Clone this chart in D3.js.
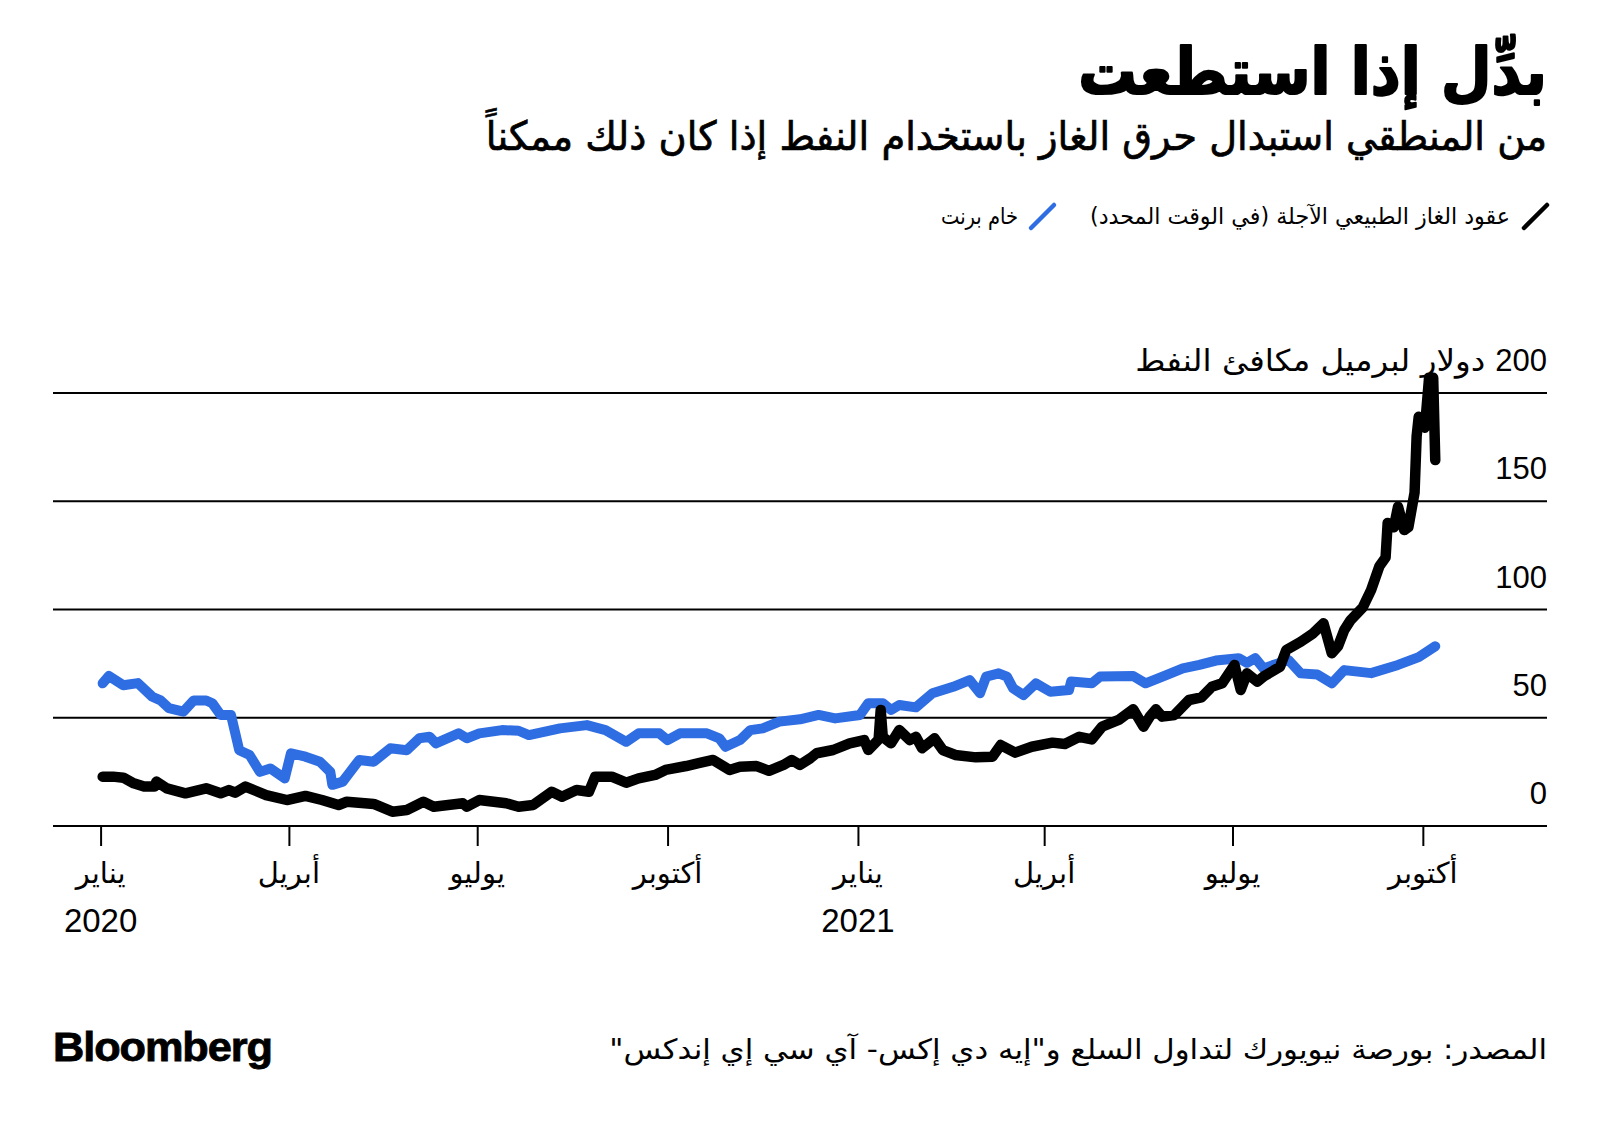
<!DOCTYPE html>
<html><head><meta charset="utf-8">
<script src="https://cdn.jsdelivr.net/npm/d3@7"></script>
<style>body{margin:0;background:#fff} svg{display:block}</style>
</head><body>
<svg id="c" width="1600" height="1128"></svg>
<script>
// ---------- DATA ----------
const gasDates = [
"2020-01-02","2020-01-07","2020-01-12","2020-01-17","2020-01-22","2020-01-27","2020-01-28","2020-02-02","2020-02-11","2020-02-21",
"2020-02-28","2020-03-03","2020-03-06","2020-03-11","2020-03-21","2020-03-31","2020-04-09","2020-04-17","2020-04-25","2020-04-29",
"2020-05-12","2020-05-21","2020-05-28","2020-06-05","2020-06-10","2020-06-24","2020-06-26","2020-07-02","2020-07-15","2020-07-21",
"2020-07-28","2020-08-06","2020-08-11","2020-08-18","2020-08-24","2020-08-27","2020-09-04","2020-09-11","2020-09-17","2020-09-25",
"2020-09-30","2020-10-10","2020-10-16","2020-10-23","2020-10-31","2020-11-05","2020-11-13","2020-11-19","2020-11-26","2020-11-30",
"2020-12-04","2020-12-09","2020-12-12","2020-12-20","2020-12-28","2021-01-04","2021-01-06","2021-01-10","2021-01-11","2021-01-12",
"2021-01-13","2021-01-17","2021-01-21","2021-01-26","2021-01-29","2021-02-01","2021-02-07","2021-02-11","2021-02-17","2021-02-27",
"2021-03-07","2021-03-11","2021-03-18","2021-03-26","2021-04-05","2021-04-11","2021-04-18","2021-04-24","2021-04-29","2021-05-07",
"2021-05-14","2021-05-19","2021-05-22","2021-05-25","2021-05-28","2021-06-03","2021-06-10","2021-06-16","2021-06-21","2021-06-26",
"2021-07-02","2021-07-05","2021-07-08","2021-07-13","2021-07-16","2021-07-24","2021-07-27","2021-08-03","2021-08-09","2021-08-14",
"2021-08-18","2021-08-21","2021-08-24","2021-08-27","2021-09-02","2021-09-06","2021-09-10","2021-09-13","2021-09-14","2021-09-17",
"2021-09-19","2021-09-22","2021-09-24","2021-09-27","2021-09-28","2021-09-29","2021-10-02","2021-10-04","2021-10-06","2021-10-07"];
const gasValues = [
22.8,22.8,22.3,19.7,18.2,18.2,20.5,17.4,15.1,17.4,
15.1,16.6,15.4,18.2,14.3,12,13.9,12,9.7,11.2,
10.2,6.6,7.4,11.2,8.9,10.5,8.9,12,10.5,8.9,
9.7,15.8,13.5,16.6,15.8,22.8,22.8,20,22,23.6,
25.9,27.7,29,30.5,25.9,27.4,27.7,25.5,28.2,30.5,
28.2,31.3,33.6,35.1,38.2,39.7,35.1,39,40,53.6,
41.2,38.2,44.3,39.7,41.2,35.9,40.5,35.1,32.8,31.7,
32,37.4,33.9,36.6,38.5,37.9,41.2,40,45.9,49,
53.9,45.9,50.5,53.9,50.5,51.3,58.2,59.4,64.3,65.9,
74.4,62.8,70.5,66.7,69,73.6,81.3,85.1,89,93.6,
79.8,83,90.5,95,101,109,120,124,140,138,
147.5,136.7,138,154,180,189,184,207,207,169];

const brentDates = [
"2020-01-02","2020-01-05","2020-01-12","2020-01-19","2020-01-26","2020-01-30","2020-02-03","2020-02-10","2020-02-15","2020-02-21",
"2020-02-24","2020-02-28","2020-03-04","2020-03-08","2020-03-13","2020-03-18","2020-03-23","2020-03-30","2020-04-02","2020-04-09",
"2020-04-16","2020-04-21","2020-04-22","2020-04-27","2020-04-30","2020-05-05","2020-05-12","2020-05-20","2020-05-28","2020-06-03",
"2020-06-08","2020-06-11","2020-06-22","2020-06-26","2020-07-02","2020-07-13","2020-07-21","2020-07-26","2020-08-10","2020-08-23",
"2020-09-01","2020-09-11","2020-09-17","2020-09-27","2020-10-01","2020-10-07","2020-10-20","2020-10-26","2020-10-29","2020-11-05",
"2020-11-10","2020-11-16","2020-11-24","2020-12-04","2020-12-13","2020-12-21","2021-01-02","2021-01-06","2021-01-13","2021-01-17",
"2021-01-21","2021-01-29","2021-02-06","2021-02-16","2021-02-24","2021-03-01","2021-03-04","2021-03-10","2021-03-14","2021-03-17",
"2021-03-22","2021-03-28","2021-04-04","2021-04-13","2021-04-14","2021-04-24","2021-04-28","2021-05-14","2021-05-20","2021-05-30",
"2021-06-07","2021-06-15","2021-06-23","2021-07-04","2021-07-08","2021-07-12","2021-07-16","2021-07-23","2021-07-28","2021-08-03",
"2021-08-11","2021-08-18","2021-08-24","2021-09-06","2021-09-19","2021-09-29","2021-10-07"];
const brentValues = [
65.9,69.3,65,66,59.7,58,54.4,52.8,58,58,
56.7,51.3,51.3,35,32.8,25,26.6,22,33.6,32,
29.7,25,19,20.5,24.3,30.5,29.7,35.9,35,40.5,
41.2,38.2,42.8,40.5,42.8,44.3,44,42,45.1,46.6,
44.3,38.9,42.8,42.8,39.7,42.8,42.8,40.5,36.6,39.7,
44.3,45.1,48.2,49.3,51.3,49.7,51.3,56.7,56.7,53.6,
55.9,54.8,61.3,64.3,67.4,61.3,69,70.5,69,63.6,
60.5,65.9,62,62.8,66.7,65.9,69,69.3,65.9,69.7,
72.8,74.4,76.4,77.5,75.4,77.5,72.8,75.1,76.7,70.5,
70,65.9,72,70.6,74.4,78,83];

const tickDates = ["2020-01-01","2020-04-01","2020-07-01","2020-10-01","2021-01-01","2021-04-01","2021-07-01","2021-10-01"];
const monthLabels = ["يناير","أبريل","يوليو","أكتوبر","يناير","أبريل","يوليو","أكتوبر"];
const yearLabels = ["2020","","","","2021","","",""];
const yTicks = [0,50,100,150,200];
const yUnit = "دولار لبرميل مكافئ النفط";
const seriesNames = ["عقود الغاز الطبيعي الآجلة (في الوقت المحدد)","خام برنت"];
const titleText = "بدِّل إذا استطعت";
const subtitleText = "من المنطقي استبدال حرق الغاز باستخدام النفط إذا كان ذلك ممكناً";
const sourceText = "المصدر: بورصة نيويورك لتداول السلع و\"إيه دي إكس- آي سي إي إندكس\"";

// ---------- SETUP ----------
const RLM = "\u200F";
const AR = "'DejaVu Sans', sans-serif";
const LAT = "'Liberation Sans', Arial, sans-serif";
const BLUE = "#2f6de3";
const parse = d3.timeParse("%Y-%m-%d");
const svg = d3.select("#c");

const x = d3.scaleTime().domain([parse("2019-12-09"), parse("2021-11-30")]).range([53, 1547]);
const y = d3.scaleLinear().domain([0, 200]).range([826, 393]);

function fitRight(sel, rightX, width) {
  const bb = sel.node().getBBox();
  const s = width / bb.width;
  sel.attr("transform", `translate(${rightX},0) scale(${s},1) translate(${-rightX},0)`);
}
function fitLeft(sel, leftX, width) {
  const bb = sel.node().getBBox();
  const s = width / bb.width;
  sel.attr("transform", `translate(${leftX},0) scale(${s},1) translate(${-leftX},0)`);
}

// Title & subtitle
const title = svg.append("text").attr("x",1547).attr("y",94).attr("text-anchor","end")
  .attr("font-family",AR).attr("font-weight","bold").attr("font-size",64).attr("fill","#000")
  .attr("stroke","#000").attr("stroke-width",2.2).attr("stroke-linejoin","round")
  .text(RLM+titleText+RLM);
fitRight(title,1547,469);
const sub = svg.append("text").attr("x",1547).attr("y",150).attr("text-anchor","end")
  .attr("font-family",AR).attr("font-size",40).attr("fill","#000")
  .attr("stroke","#000").attr("stroke-width",0.7)
  .text(RLM+subtitleText+RLM);
fitRight(sub,1547,1062);

// Legend
const legend = [
  {name: seriesNames[0], color:"#000", iconX:1522, textRight:1510, textW:420},
  {name: seriesNames[1], color:BLUE, iconX:1029, textRight:1018, textW:77}
];
legend.forEach(l => {
  svg.append("line").attr("x1",l.iconX+2).attr("y1",228).attr("x2",l.iconX+25).attr("y2",205)
    .attr("stroke",l.color).attr("stroke-width",4.5).attr("stroke-linecap","round");
  const t = svg.append("text").attr("x",l.textRight).attr("y",224).attr("text-anchor","end")
    .attr("font-family",AR).attr("font-size",23).attr("fill","#000").text(RLM+l.name+RLM);
  fitRight(t,l.textRight,l.textW);
});

// Gridlines
svg.append("g").selectAll("line").data(yTicks).join("line")
  .attr("x1",x.range()[0]).attr("x2",x.range()[1])
  .attr("y1",d=>y(d)).attr("y2",d=>y(d))
  .attr("stroke","#000").attr("stroke-width",2);

// Y labels
const yl = svg.append("g").selectAll("text").data(yTicks).join("text")
  .attr("x",1547).attr("y",d=>y(d)-22).attr("text-anchor","end")
  .attr("font-family",LAT).attr("font-size",31).attr("fill","#000")
  .text(d=>d);
const topNum = yl.filter(d=>d===200).node();
const numW = topNum.getBBox().width;
const unit = svg.append("text").attr("x",1547-numW-10).attr("y",y(200)-22).attr("text-anchor","end")
  .attr("font-family",AR).attr("font-size",30).attr("fill","#000").text(RLM+yUnit+RLM);
fitRight(unit,1547-numW-10,350);

// X axis ticks
const tdates = tickDates.map(parse);
const xa = svg.append("g").attr("transform",`translate(0,${y(0)})`)
  .call(d3.axisBottom(x).tickValues(tdates).tickSize(20).tickFormat(""));
xa.select(".domain").remove();
xa.selectAll(".tick line").attr("stroke","#000").attr("stroke-width",2);

svg.append("g").selectAll("text").data(tdates).join("text")
  .attr("x",d=>x(d)).attr("y",883).attr("text-anchor","middle")
  .attr("font-family",AR).attr("font-size",29).attr("fill","#000")
  .text((d,i)=>RLM+monthLabels[i]+RLM);
svg.append("g").selectAll("text").data(tdates).join("text")
  .attr("x",d=>x(d)).attr("y",932).attr("text-anchor","middle")
  .attr("font-family",LAT).attr("font-size",33).attr("fill","#000")
  .text((d,i)=>yearLabels[i]);

// Lines
const line = d3.line().x(d=>x(d[0])).y(d=>y(d[1])).curve(d3.curveLinear);
const brent = brentDates.map((d,i)=>[parse(d),brentValues[i]]);
const gas = gasDates.map((d,i)=>[parse(d),gasValues[i]]);
svg.append("path").datum(brent).attr("d",line).attr("fill","none")
  .attr("stroke",BLUE).attr("stroke-width",10).attr("stroke-linejoin","round").attr("stroke-linecap","round");
svg.append("path").datum(gas).attr("d",line).attr("fill","none")
  .attr("stroke","#000").attr("stroke-width",10.5).attr("stroke-linejoin","round").attr("stroke-linecap","round");

// Footer
const logo = svg.append("text").attr("x",53).attr("y",1061).attr("font-family",LAT)
  .attr("font-weight","bold").attr("font-size",40).attr("letter-spacing",-1).attr("fill","#000")
  .attr("stroke","#000").attr("stroke-width",0.8).text("Bloomberg");
fitLeft(logo,53,219);
const src = svg.append("text").attr("x",1547).attr("y",1059).attr("text-anchor","end")
  .attr("font-family",AR).attr("font-size",28).attr("fill","#000").text(RLM+sourceText+RLM);
fitRight(src,1547,938);
</script>
</body></html>
